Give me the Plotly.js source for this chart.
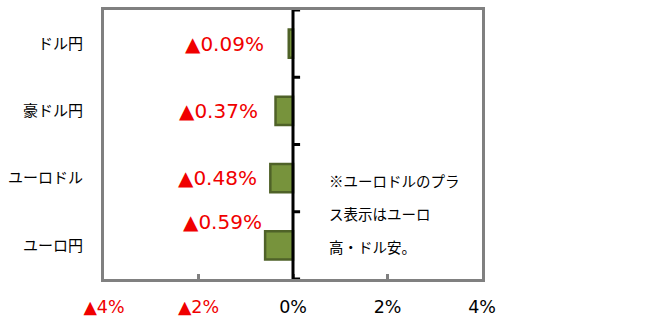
<!DOCTYPE html>
<html><head><meta charset="utf-8">
<script src="https://cdn.plot.ly/plotly-3.0.1.min.js"></script>
<style>html,body{margin:0;padding:0;background:#fff}#c{width:656px;height:319px}</style>
</head><body><div id="c"></div>
<script>
const categories = ['ドル円', '豪ドル円', 'ユーロドル', 'ユーロ円'];
const values = [-0.09, -0.37, -0.48, -0.59];
const labels = ['▲0.09%', '▲0.37%', '▲0.48%', '▲0.59%'];
const tickVals = [-4, -2, 0, 2, 4];
const tickText = ['▲4%', '▲2%', '0%', '2%', '4%'];
const noteLines = ['※ユーロドルのプラ', 'ス表示はユーロ', '高・ドル安。'];

// label pixel offsets (style only)
const labelOffsets = [[-23, 0], [-16, 0], [-11, 0], [-1, 23]];

const FONT = '"Noto Sans CJK JP", "Noto Sans", sans-serif';
const NUMFONT = '"DejaVu Sans", sans-serif';
const RED = '#f00000';

const ticktextStyled = tickVals.map((v, i) => v < 0 ? '<span style="color:' + RED + '">' + tickText[i] + '</span>' : tickText[i]);

const annotations = categories.map((c, i) => ({
  x: values[i], y: c, xref: 'x', yref: 'y',
  text: labels[i], showarrow: false, xanchor: 'right', yanchor: 'middle',
  xshift: labelOffsets[i][0], yshift: labelOffsets[i][1],
  font: {family: NUMFONT, size: 20, color: RED}
}));
const noteY = [0.365, 0.243, 0.122];
noteLines.forEach((t, i) => annotations.push({
  x: 0.72, y: noteY[i], xref: 'x', yref: 'paper', text: t, showarrow: false,
  xanchor: 'left', yanchor: 'middle', font: {family: FONT, size: 14.5, color: '#000'}
}));

const shapes = [];
for (let k = 0; k <= categories.length; k++) {
  shapes.push({type: 'line', xref: 'x', yref: 'y', x0: 0, x1: 0.15, y0: k - 0.5, y1: k - 0.5,
    line: {color: '#000', width: 3}});
}
shapes.push({type: 'line', xref: 'x', yref: 'paper', x0: 0, x1: 0, y0: 0, y1: 1, line: {color: '#000', width: 3}});

Plotly.newPlot('c', [{
  type: 'bar', orientation: 'h', x: values, y: categories, width: 0.42,
  marker: {color: '#77933C', line: {color: '#4F6228', width: 2.5}},
  hoverinfo: 'skip'
}], {
  width: 656, height: 319,
  margin: {l: 104, r: 174, t: 10, b: 40},
  paper_bgcolor: '#fff', plot_bgcolor: '#fff',
  showlegend: false,
  font: {family: FONT, color: '#000'},
  xaxis: {range: [-4, 4], tickvals: tickVals, ticktext: ticktextStyled,
    ticks: 'inside', ticklen: 5, tickwidth: 3, tickcolor: '#808080',
    showgrid: false, zeroline: false, showline: true, mirror: true,
    linecolor: '#808080', linewidth: 3, ticklabelstandoff: 10,
    tickfont: {family: NUMFONT, size: 17.5, color: '#000'}, fixedrange: true},
  yaxis: {type: 'category', categoryarray: categories, range: [3.5, -0.5],
    showgrid: false, zeroline: false, showline: true, mirror: true,
    linecolor: '#808080', linewidth: 3, ticks: '', ticklabelstandoff: 15,
    tickfont: {family: FONT, size: 15, color: '#000'}, fixedrange: true},
  annotations: annotations,
  shapes: shapes
}, {staticPlot: true});
</script></body></html>
